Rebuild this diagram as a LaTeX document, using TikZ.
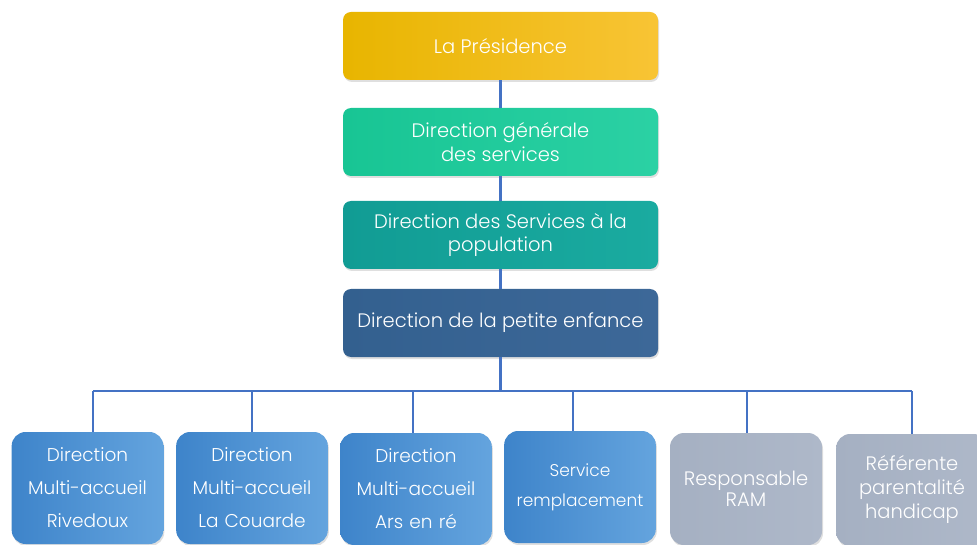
\documentclass[tikz,border=0pt]{standalone}
\usepackage{fontspec}
\setmainfont{Poppins Light}
\usetikzlibrary{shadows,calc}
\definecolor{linec}{HTML}{4472C4}
\definecolor{goldA}{HTML}{E8B500}
\definecolor{goldB}{HTML}{F8C435}
\definecolor{greenA}{HTML}{18C594}
\definecolor{greenB}{HTML}{2BD1A4}
\definecolor{tealA}{HTML}{119C94}
\definecolor{tealB}{HTML}{1AABA0}
\definecolor{navyA}{HTML}{33608F}
\definecolor{navyB}{HTML}{3D6898}
\definecolor{blueA}{HTML}{3E84CA}
\definecolor{blueB}{HTML}{64A4DE}
\definecolor{grayA}{HTML}{A5B0C2}
\definecolor{grayB}{HTML}{AEB8C9}
\tikzset{
  topbox/.style={rounded corners=8pt, minimum width=315pt, minimum height=68pt,
    text=white, align=center, font=\fontsize{19.5}{23.5}\selectfont,
    drop shadow={shadow xshift=1pt, shadow yshift=-2pt, opacity=0.25}},
  botbox/.style={rounded corners=14pt, minimum width=149pt, minimum height=112pt,
    text=white, align=center, text width=145pt,
    drop shadow={shadow xshift=1pt, shadow yshift=-2pt, opacity=0.25}},
  bluebox/.style={botbox, left color=blueA, right color=blueB},
  graybox/.style={botbox, left color=grayA, right color=grayB},
  conn/.style={draw=linec, line width=2.4pt},
}
\begin{document}
\begin{tikzpicture}[x=1pt,y=-1pt]
\useasboundingbox (0,0) rectangle (977,545);
\node[topbox, left color=goldA, right color=goldB] (pres) at (500.5,46) {La Présidence};
\node[topbox, left color=greenA, right color=greenB] (dgs) at (500.5,142) {Direction générale\\des services};
\node[topbox, left color=tealA, right color=tealB] (dsp) at (500.5,235) {Direction des Services à la\\population};
\node[topbox, left color=navyA, right color=navyB] (dpe) at (500.5,323) {Direction de la petite enfance};

\node[bluebox, font=\fontsize{18.5}{33}\selectfont] (b1) at (87.5,488) {Direction\\Multi-accueil\\Rivedoux};
\node[bluebox, font=\fontsize{18.5}{33}\selectfont, minimum width=148pt] (b2) at (252,488) {Direction\\Multi-accueil\\La Couarde};
\node[bluebox, font=\fontsize{18.5}{33}\selectfont, minimum width=150pt] (b3) at (416,489) {Direction\\Multi-accueil\\Ars en ré};
\node[bluebox, font=\fontsize{17}{30}\selectfont, minimum width=150pt] (b4) at (580,487) {Service\\remplacement};
\node[graybox, font=\fontsize{19.5}{21.5}\selectfont, minimum width=152pt] (b5) at (746,489) {Responsable\\RAM};
\node[graybox, font=\fontsize{19.5}{24}\selectfont, minimum width=150pt] (b6) at (912,490) {Référente\\parentalité\\handicap};

\coordinate (bus) at (500.5,391);
\coordinate (d1) at (93,391);
\coordinate (d2) at (252,391);
\coordinate (d3) at (413,391);
\coordinate (d4) at (573,391);
\coordinate (d5) at (747,391);
\coordinate (d6) at (912,391);

\draw[conn] (pres.south) -- (dgs.north);
\draw[conn] (dgs.south) -- (dsp.north);
\draw[conn] (dsp.south) -- (dpe.north);
\draw[conn] (dpe.south) -- (bus);
\draw[conn] (d1) -- (d6);
\draw[conn] (d1) -- (d1 |- b1.north);
\draw[conn] (d2) -- (d2 |- b2.north);
\draw[conn] (d3) -- (d3 |- b3.north);
\draw[conn] (d4) -- (d4 |- b4.north);
\draw[conn] (d5) -- (d5 |- b5.north);
\draw[conn] (d6) -- (d6 |- b6.north);
\end{tikzpicture}
\end{document}
